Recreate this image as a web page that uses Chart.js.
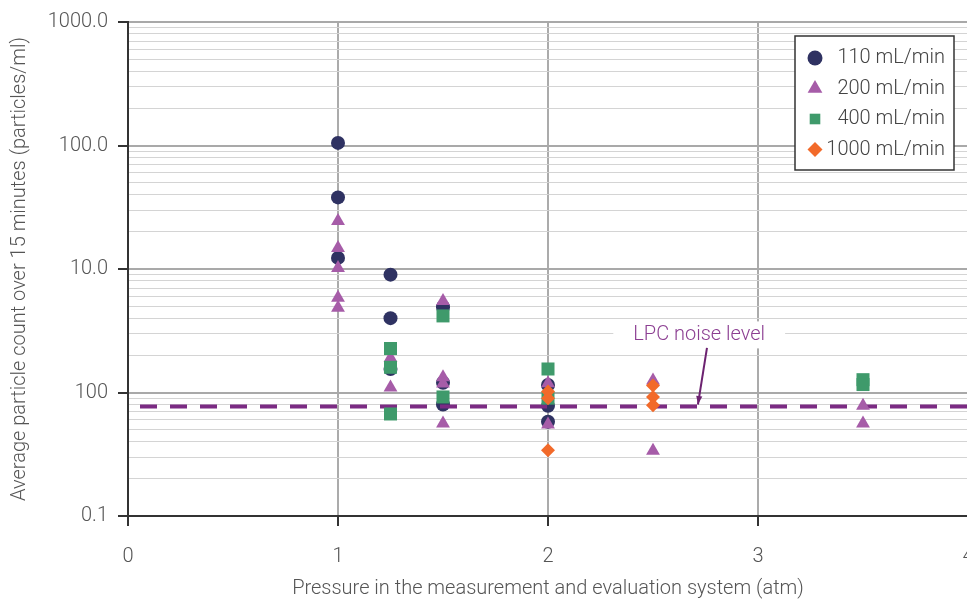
<!DOCTYPE html>
<html lang="en">
<head>
<meta charset="UTF-8">
<title>Average particle count vs pressure</title>
<script src="https://cdn.jsdelivr.net/npm/chart.js"></script>
<style>
  html, body { margin: 0; padding: 0; background: #fff; overflow: hidden; }
  .wrap { width: 1010px; height: 602px; }
</style>
</head>
<body>
<div class="wrap"><canvas id="chart" width="1010" height="602"></canvas></div>
<script>
const FONT = "Roboto, 'Liberation Sans', sans-serif";

// axis ticks
const xTicks = [0, 1, 2, 3, 4];
const yDecades = [0.1, 1, 10, 100, 1000];
const yTickLabels = ['0.1', '100', '10.0', '100.0', '1000.0'];

// series (pressure in atm, particles/ml)
const seriesNames = ['110 mL/min', '200 mL/min', '400 mL/min', '1000 mL/min'];

const p110 = [1, 1, 1, 1.25, 1.25, 1.25, 1.5, 1.5, 1.5, 2, 2, 2];
const c110 = [105, 38, 12.3, 9.0, 4.0, 1.55, 4.9, 1.2, 0.8, 1.15, 0.78, 0.58];

const p200 = [1, 1, 1, 1, 1, 1.25, 1.25, 1.5, 1.5, 1.5, 1.5, 2, 2, 2.5, 2.5, 3.5, 3.5];
const c200 = [24.5, 14.8, 10.2, 5.85, 4.86, 1.9, 1.1, 5.5, 1.33, 1.18, 0.56, 1.19, 0.55, 1.25, 0.337, 0.78, 0.56];

const p400 = [1.25, 1.25, 1.25, 1.5, 1.5, 2, 2, 3.5, 3.5];
const c400 = [2.27, 1.6, 0.67, 4.17, 0.92, 1.55, 0.9, 1.27, 1.16];

const p1000 = [2, 2, 2, 2.5, 2.5, 2.5];
const c1000 = [1.02, 0.9, 0.34, 1.14, 0.92, 0.79];

const noiseLevel = 0.77;
const noiseText = 'LPC noise level';

const colors = ['#2f3262', '#a65ca8', '#3f9a6b', '#f26a2a'];
const shapes = ['circle', 'triangle', 'rect', 'rectRot'];
const radii = [7, 8, 9.2, 7];

const pts = (xs, ys) => xs.map((x, i) => ({ x: x, y: ys[i] }));
const isDecade = v => Math.abs(Math.log10(v) - Math.round(Math.log10(v))) < 1e-6;

function scatterSet(i, xs, ys, order) {
  return {
    type: 'scatter',
    label: seriesNames[i],
    data: pts(xs, ys),
    pointStyle: shapes[i],
    pointRadius: radii[i],
    pointHoverRadius: radii[i],
    backgroundColor: colors[i],
    borderColor: colors[i],
    borderWidth: 0,
    order: order
  };
}

// own marker drawing, same geometry as Chart.js point styles
function drawMarker(ctx, style, x, y, r, color) {
  ctx.save();
  ctx.fillStyle = color;
  ctx.beginPath();
  if (style === 'circle') {
    ctx.arc(x, y, r, 0, Math.PI * 2);
  } else if (style === 'triangle') {
    for (let k = 0; k < 3; k++) {
      const a = k * 2 * Math.PI / 3;
      const px = x + Math.sin(a) * r, py = y - Math.cos(a) * r;
      k ? ctx.lineTo(px, py) : ctx.moveTo(px, py);
    }
  } else if (style === 'rect') {
    const s = r * Math.SQRT1_2;
    ctx.rect(x - s, y - s, 2 * s, 2 * s);
  } else {
    ctx.moveTo(x - r, y); ctx.lineTo(x, y - r); ctx.lineTo(x + r, y); ctx.lineTo(x, y + r);
  }
  ctx.closePath();
  ctx.fill();
  ctx.restore();
}

const legendBox = {
  id: 'legendBox',
  afterDraw(chart) {
    const ctx = chart.ctx, a = chart.chartArea;
    const left = a.right - 173, top = a.top + 14, w = 159, h = 134;
    ctx.save();
    ctx.fillStyle = '#fff';
    ctx.fillRect(left, top, w, h);
    ctx.strokeStyle = '#333';
    ctx.lineWidth = 1.5;
    ctx.strokeRect(left, top, w, h);
    ctx.font = '300 20px ' + FONT;
    ctx.fillStyle = '#444';
    ctx.textAlign = 'right';
    ctx.textBaseline = 'middle';
    seriesNames.forEach((name, i) => {
      const y = top + 22 + i * 30.5;
      drawMarker(ctx, shapes[i], left + 20, y, i === 1 ? 8.5 : 7.5, colors[i]);
      ctx.fillText(name, left + w - 9, y);
    });
    ctx.restore();
  }
};

const noiseNote = {
  id: 'noiseNote',
  afterDatasetsDraw(chart) {
    const ctx = chart.ctx, xs = chart.scales.x, ys = chart.scales.y;
    const tx = xs.getPixelForValue(2.72), ty = ys.getPixelForValue(2.9);
    ctx.save();
    ctx.font = '300 20px ' + FONT;
    const tw = ctx.measureText(noiseText).width;
    ctx.fillStyle = '#fff';
    ctx.fillRect(tx - tw / 2 - 20, ty - 14, tw + 40, 27);
    ctx.fillStyle = '#8c3f92';
    ctx.textAlign = 'center';
    ctx.textBaseline = 'middle';
    ctx.fillText(noiseText, tx, ty);
    // arrow
    const x1 = xs.getPixelForValue(2.757), y1 = ys.getPixelForValue(2.3);
    const x2 = xs.getPixelForValue(2.714), y2 = ys.getPixelForValue(0.8);
    ctx.strokeStyle = '#6c2270';
    ctx.fillStyle = '#6c2270';
    ctx.lineWidth = 2;
    ctx.beginPath();
    ctx.moveTo(x1, y1);
    ctx.lineTo(x2, y2);
    ctx.stroke();
    const ang = Math.atan2(y2 - y1, x2 - x1);
    ctx.beginPath();
    ctx.moveTo(x2, y2);
    ctx.lineTo(x2 - 9 * Math.cos(ang - 0.35), y2 - 9 * Math.sin(ang - 0.35));
    ctx.lineTo(x2 - 9 * Math.cos(ang + 0.35), y2 - 9 * Math.sin(ang + 0.35));
    ctx.closePath();
    ctx.fill();
    ctx.restore();
  }
};

new Chart(document.getElementById('chart'), {
  data: {
    datasets: [
      scatterSet(3, p1000, c1000, 1),
      scatterSet(2, p400, c400, 2),
      scatterSet(1, p200, c200, 3),
      {
        type: 'line',
        label: 'noise',
        data: [{ x: 0, y: noiseLevel }, { x: 4, y: noiseLevel }],
        borderColor: '#7b2b83',
        borderWidth: 4,
        borderDash: [17, 13],
        borderDashOffset: 18,
        pointRadius: 0,
        order: 4
      },
      scatterSet(0, p110, c110, 5)
    ]
  },
  options: {
    responsive: false,
    animation: false,
    devicePixelRatio: 1,
    layout: { padding: { top: 17, right: 42, left: 0, bottom: 0 } },
    plugins: {
      legend: { display: false },
      tooltip: { enabled: false }
    },
    scales: {
      x: {
        type: 'linear',
        min: 0,
        max: 4,
        afterBuildTicks: s => { s.ticks = xTicks.map(v => ({ value: v })); },
        afterFit: s => { s.height = 86; },
        ticks: {
          font: { family: FONT, size: 20, weight: 300 },
          color: '#555',
          padding: 19,
          autoSkip: false,
          maxRotation: 0
        },
        grid: {
          color: c => (c.tick && c.tick.value > 0 && c.tick.value < 4) ? '#ababab' : 'rgba(0,0,0,0)',
          lineWidth: 2,
          tickColor: '#333',
          tickLength: 10
        },
        border: { color: '#333', width: 2 },
        title: {
          display: true,
          text: 'Pressure in the measurement and evaluation system (atm)',
          font: { family: FONT, size: 20, weight: 300 },
          color: '#555',
          padding: { top: 0, bottom: 1 }
        }
      },
      y: {
        type: 'logarithmic',
        min: 0.1,
        max: 1000,
        afterBuildTicks: s => {
          const t = [];
          for (let d = 0; d < yDecades.length; d++) {
            if (d === yDecades.length - 1) { t.push({ value: yDecades[d] }); break; }
            for (let m = 1; m <= 9; m++) t.push({ value: +(yDecades[d] * m).toPrecision(6) });
          }
          s.ticks = t;
        },
        afterFit: s => { s.width = 128; },
        ticks: {
          font: { family: FONT, size: 20, weight: 300 },
          color: '#555',
          padding: 10,
          autoSkip: false,
          callback: v => {
            const i = yDecades.findIndex(d => Math.abs(d - v) / d < 1e-6);
            return i >= 0 ? yTickLabels[i] : '';
          }
        },
        grid: {
          color: c => isDecade(c.tick.value) ? '#a9a9a9' : '#d4d4d4',
          lineWidth: c => isDecade(c.tick.value) ? 2 : 1,
          tickColor: c => isDecade(c.tick.value) ? '#333' : 'rgba(0,0,0,0)',
          tickLength: 10
        },
        border: { color: '#333', width: 2 },
        title: {
          display: true,
          text: 'Average particle count over 15 minutes (particles/ml)',
          font: { family: FONT, size: 20, weight: 300 },
          color: '#555',
          padding: { top: 8, bottom: 0 }
        }
      }
    }
  },
  plugins: [noiseNote, legendBox]
});
</script>
</body>
</html>
